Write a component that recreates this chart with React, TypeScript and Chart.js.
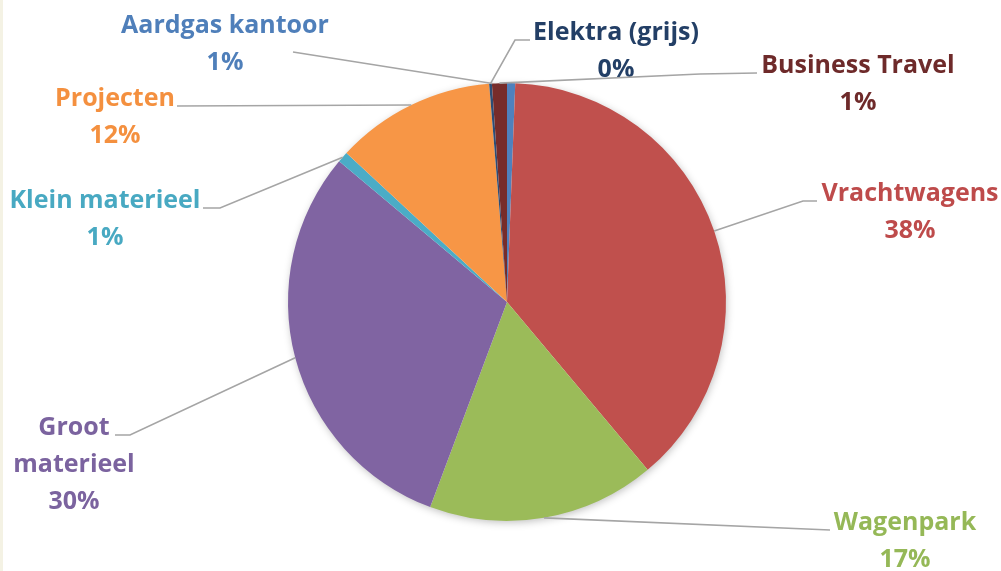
import React, { useEffect, useRef } from "react";
import { Chart, registerables } from "chart.js";

Chart.register(...registerables);

// ---- data ----
const categories = [
  "Aardgas kantoor",
  "Vrachtwagens",
  "Wagenpark",
  "Groot materieel",
  "Klein materieel",
  "Projecten",
  "Elektra (grijs)",
  "Business Travel",
];
const shares = [0.6, 38.3, 16.8, 30.4, 0.8, 11.8, 0.2, 1.1];
const sliceColors = [
  "#4F81BD",
  "#C0504D",
  "#9BBB59",
  "#8064A2",
  "#4BACC6",
  "#F79646",
  "#2C4D75",
  "#772C2A",
];
const textColors = [
  "#4F7FBA",
  "#BE4B4B",
  "#95B857",
  "#7B639F",
  "#48A9C2",
  "#F4903F",
  "#233F66",
  "#6E2A2A",
];

// ---- label layout (centre x, first baseline y, wrapped name, leader path from label side) ----
type LabelLayout = {
  x: number;
  y: number;
  lines?: string[];
  lead: number[][];
  anchorDeg?: number;
};
const labelLayout: LabelLayout[] = [
  { x: 225, y: 33, lead: [[293, 52]], anchorDeg: 356.2 },
  { x: 910, y: 201, lead: [[817, 201], [803, 201]] },
  { x: 905, y: 530, lead: [[830, 530]] },
  { x: 74, y: 435, lines: ["Groot", "materieel"], lead: [[115, 435], [130, 435]] },
  { x: 105, y: 208, lead: [[203, 208], [220, 208]] },
  { x: 115, y: 106, lead: [[177, 106]] },
  { x: 616, y: 40, lead: [[530, 40], [515, 40]] },
  { x: 858, y: 73, lead: [[757, 73], [700, 74]] },
];

const LINE_H = 37;
const FONT = 'bold 25px "Open Sans", "DejaVu Sans", sans-serif';

const shadowPlugin = {
  id: "pieShadow",
  beforeDatasetsDraw(chart: any) {
    const arc = chart.getDatasetMeta(0).data[0];
    if (!arc) return;
    const p = arc.getProps(["x", "y", "outerRadius"], true);
    const ctx = chart.ctx;
    ctx.save();
    ctx.shadowColor = "rgba(0,0,0,0.28)";
    ctx.shadowBlur = 9;
    ctx.shadowOffsetX = 1;
    ctx.shadowOffsetY = 2;
    ctx.fillStyle = "#ffffff";
    ctx.beginPath();
    ctx.arc(p.x, p.y, p.outerRadius - 1, 0, Math.PI * 2);
    ctx.fill();
    ctx.restore();
  },
};

const labelPlugin = {
  id: "outsideLabels",
  afterDatasetsDraw(chart: any) {
    const ctx = chart.ctx;
    const meta = chart.getDatasetMeta(0);
    const data: number[] = chart.data.datasets[0].data;
    const total = data.reduce((s, v) => s + v, 0);
    ctx.save();
    meta.data.forEach((arc: any, i: number) => {
      const lay = labelLayout[i];
      const p = arc.getProps(["x", "y", "startAngle", "endAngle", "outerRadius"], true);
      const ang =
        lay.anchorDeg !== undefined
          ? ((lay.anchorDeg - 90) * Math.PI) / 180
          : (p.startAngle + p.endAngle) / 2;
      const ax = p.x + Math.cos(ang) * p.outerRadius;
      const ay = p.y + Math.sin(ang) * p.outerRadius;
      // leader line
      ctx.strokeStyle = "#A5A5A5";
      ctx.lineWidth = 1.6;
      ctx.beginPath();
      ctx.moveTo(lay.lead[0][0], lay.lead[0][1]);
      for (let k = 1; k < lay.lead.length; k++) ctx.lineTo(lay.lead[k][0], lay.lead[k][1]);
      ctx.lineTo(ax, ay);
      ctx.stroke();
      // text
      const lines = [...(lay.lines || [chart.data.labels[i]]), Math.round((data[i] / total) * 100) + "%"];
      ctx.font = FONT;
      ctx.fillStyle = textColors[i];
      ctx.textAlign = "center";
      ctx.textBaseline = "alphabetic";
      lines.forEach((t: string, k: number) => ctx.fillText(t, lay.x, lay.y + k * LINE_H));
    });
    ctx.restore();
  },
};

export default function App() {
  const ref = useRef<HTMLCanvasElement | null>(null);
  useEffect(() => {
    document.body.style.margin = "0";
    document.body.style.background = "#ffffff";
    if (!ref.current) return;
    const chart = new Chart(ref.current, {
      type: "pie",
      data: {
        labels: categories,
        datasets: [
          {
            data: shares,
            backgroundColor: sliceColors,
            borderWidth: 0,
          },
        ],
      },
      options: {
        animation: false,
        responsive: false,
        maintainAspectRatio: false,
        layout: { padding: { top: 83, bottom: 50, left: 288, right: 275 } },
        plugins: {
          legend: { display: false },
          tooltip: { enabled: false },
        },
      },
      plugins: [shadowPlugin, labelPlugin],
    });
    return () => chart.destroy();
  }, []);
  return (
    <div style={{ position: "relative", width: 1001, height: 571, background: "#ffffff" }}>
      <canvas ref={ref} width={1001} height={571} style={{ display: "block", width: 1001, height: 571 }} />
      <div style={{ position: "absolute", left: 0, top: 0, width: 3, height: 571, background: "#F4F2E4" }} />
    </div>
  );
}
